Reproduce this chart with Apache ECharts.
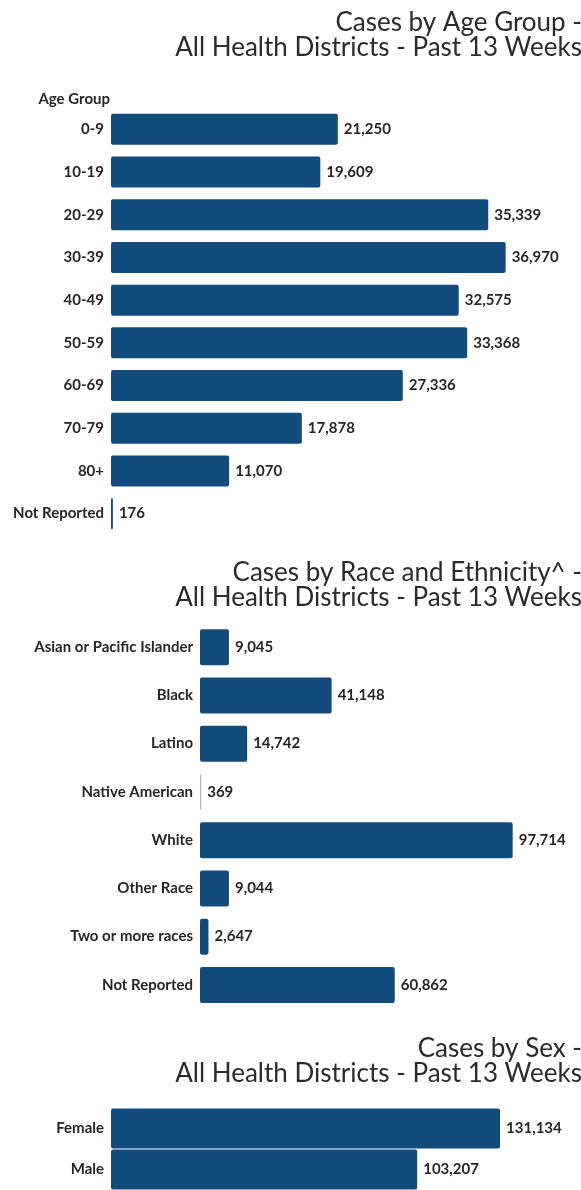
<!DOCTYPE html>
<html>
<head>
<meta charset="utf-8">
<script src="https://cdn.jsdelivr.net/npm/echarts@6/dist/echarts.min.js"></script>
<style>
  html, body { margin: 0; padding: 0; background: #ffffff; }
  #chart { width: 581px; height: 1190px; }
</style>
</head>
<body>
<div id="chart"></div>
<script>
// Cases over the past 13 weeks, all health districts
const ageGroups = ['0-9', '10-19', '20-29', '30-39', '40-49', '50-59', '60-69', '70-79', '80+', 'Not Reported'];
const ageCases = [21250, 19609, 35339, 36970, 32575, 33368, 27336, 17878, 11070, 176];

const raceGroups = ['Asian or Pacific Islander', 'Black', 'Latino', 'Native American', 'White', 'Other Race', 'Two or more races', 'Not Reported'];
const raceCases = [9045, 41148, 14742, 369, 97714, 9044, 2647, 60862];

const sexGroups = ['Female', 'Male'];
const sexCases = [131134, 103207];

const BLUE = '#124c7d';
const GREY = '#b4b4b4';
const TEXT = '#262626';
const FONT = 'Lato, "Open Sans", sans-serif';

const fmt = v => Number(v).toLocaleString('en-US');

// Two-line heading, right-aligned against the page edge
function titleBlock(text, top) {
  return {
    text: text,
    left: 577,
    top: top,
    textAlign: 'right',
    textStyle: { fontFamily: FONT, fontSize: 26, fontWeight: 'normal', color: '#2b2b2b', lineHeight: 25 }
  };
}

function catAxis(idx, cats, size) {
  return {
    gridIndex: idx, type: 'category', data: cats, inverse: true,
    axisLine: { show: false }, axisTick: { show: false }, splitLine: { show: false },
    axisLabel: { margin: 7, color: TEXT, fontFamily: FONT, fontWeight: 'bold', fontSize: size }
  };
}

function valAxis(idx, max) {
  return { gridIndex: idx, type: 'value', min: 0, max: max, show: false, splitLine: { show: false } };
}

function barSeries(idx, values, cats, width, labelSize) {
  return {
    type: 'bar', xAxisIndex: idx, yAxisIndex: idx, barWidth: width,
    data: values.map((v, i) => ({
      value: v,
      itemStyle: cats[i] === 'Native American'
        ? { color: GREY, borderColor: GREY, borderWidth: 1 }
        : undefined
    })),
    itemStyle: { color: BLUE, borderRadius: 2 },
    label: {
      show: true, position: 'right', distance: 6,
      color: TEXT, fontFamily: FONT, fontWeight: 'bold', fontSize: labelSize,
      formatter: p => fmt(p.value)
    },
    silent: true, animation: false
  };
}

const chart = echarts.init(document.getElementById('chart'), null, { renderer: 'canvas' });
chart.setOption({
  backgroundColor: '#ffffff',
  animation: false,
  title: [
    titleBlock('Cases by Age Group -\nAll Health Districts - Past 13 Weeks', 5),
    titleBlock('Cases by Race and Ethnicity^ -\nAll Health Districts - Past 13 Weeks', 555),
    titleBlock('Cases by Sex -\nAll Health Districts - Past 13 Weeks', 1031),
    {
      text: 'Age Group', left: 105, top: 87, textAlign: 'right',
      textStyle: { fontFamily: FONT, fontSize: 15, fontWeight: 'bold', color: TEXT }
    }
  ],
  grid: [
    { left: 111, width: 427, top: 108, height: 427 },
    { left: 200, width: 320, top: 623, height: 386 },
    { left: 111, width: 445, top: 1108, height: 92 }
  ],
  xAxis: [valAxis(0, 40000), valAxis(1, 100000), valAxis(2, 150000)],
  yAxis: [catAxis(0, ageGroups, 15), catAxis(1, raceGroups, 15), catAxis(2, sexGroups, 15)],
  series: [
    barSeries(0, ageCases, ageGroups, 31, 15),
    barSeries(1, raceCases, raceGroups, 36, 15),
    barSeries(2, sexCases, sexGroups, 40, 15)
  ]
});
</script>
</body>
</html>
